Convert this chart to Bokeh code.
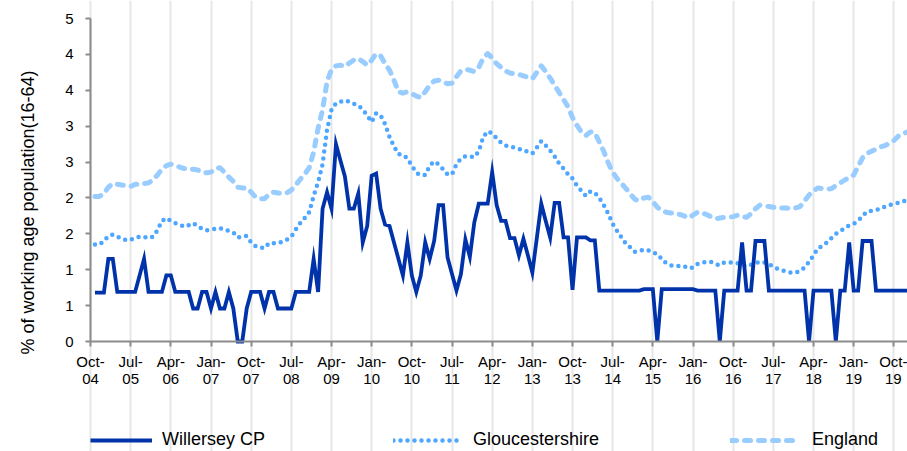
import math
from bokeh.plotting import figure
from bokeh.models import FixedTicker, Legend, LegendItem, Range1d, Label
from bokeh.embed import file_html
from bokeh.resources import INLINE

# months since Oct-04 (first observation Nov-04)
willersey = [0.68, 0.68, 0.68, 1.15, 1.15, 0.69, 0.69, 0.69, 0.69, 0.69,
             0.92, 1.15, 0.69, 0.69, 0.69, 0.69, 0.92, 0.92, 0.69, 0.69,
             0.69, 0.69, 0.46, 0.46, 0.69, 0.69, 0.46, 0.69, 0.46, 0.46,
             0.69, 0.46, 0.0, 0.0, 0.46, 0.69, 0.69, 0.69, 0.46, 0.69,
             0.69, 0.46, 0.46, 0.46, 0.46, 0.69, 0.69, 0.69, 0.69, 1.15,
             0.69, 1.85, 2.08, 1.85, 2.75, 2.52, 2.30, 1.85, 1.85, 2.06,
             1.38, 1.61, 2.31, 2.34, 1.85, 1.63, 1.61, 1.38, 1.15, 0.92,
             1.38, 0.92, 0.69, 0.92, 1.38, 1.15, 1.40, 1.90, 1.90, 1.17,
             0.94, 0.71, 0.94, 1.42, 1.18, 1.66, 1.92, 1.92, 1.92, 2.36,
             1.90, 1.68, 1.68, 1.44, 1.44, 1.20, 1.43, 1.20, 0.96, 1.44,
             1.92, 1.68, 1.45, 1.93, 1.93, 1.45, 1.45, 0.72, 1.45, 1.45,
             1.45, 1.41, 1.41, 0.71, 0.71, 0.71, 0.71, 0.71, 0.71, 0.71,
             0.71, 0.71, 0.71, 0.73, 0.73, 0.73, 0.0, 0.73, 0.73, 0.73,
             0.73, 0.73, 0.73, 0.73, 0.73, 0.71, 0.71, 0.71, 0.71, 0.71,
             0.0, 0.71, 0.71, 0.71, 0.71, 1.38, 0.71, 0.71, 1.40, 1.40,
             1.40, 0.71, 0.71, 0.71, 0.71, 0.71, 0.71, 0.71, 0.71, 0.71,
             0.0, 0.71, 0.71, 0.71, 0.71, 0.71, 0.0, 0.71, 0.71, 1.38,
             0.71, 0.71, 1.40, 1.40, 1.40, 0.71, 0.71, 0.71, 0.71, 0.71,
             0.71, 0.71, 0.71]

gloucestershire = [1.35, 1.35, 1.40, 1.47, 1.49, 1.46, 1.44, 1.41, 1.42, 1.44,
                   1.46, 1.46, 1.44, 1.46, 1.55, 1.68, 1.72, 1.68, 1.65, 1.63,
                   1.60, 1.62, 1.65, 1.61, 1.57, 1.55, 1.56, 1.57, 1.58, 1.56,
                   1.54, 1.52, 1.45, 1.46, 1.47, 1.38, 1.33, 1.31, 1.30, 1.37,
                   1.37, 1.37, 1.39, 1.42, 1.46, 1.56, 1.65, 1.72, 1.80, 2.03,
                   2.22, 2.47, 2.95, 3.23, 3.32, 3.34, 3.36, 3.34, 3.31, 3.29,
                   3.23, 3.15, 3.06, 3.18, 3.15, 3.03, 2.85, 2.72, 2.61, 2.60,
                   2.55, 2.45, 2.35, 2.32, 2.32, 2.45, 2.51, 2.47, 2.40, 2.33,
                   2.33, 2.47, 2.55, 2.58, 2.58, 2.57, 2.65, 2.85, 2.93, 2.90,
                   2.83, 2.77, 2.73, 2.72, 2.70, 2.68, 2.67, 2.64, 2.62, 2.70,
                   2.79, 2.73, 2.66, 2.58, 2.48, 2.41, 2.33, 2.27, 2.17, 2.10,
                   2.03, 2.09, 2.07, 2.00, 1.90, 1.78, 1.64, 1.54, 1.45, 1.36,
                   1.31, 1.25, 1.26, 1.28, 1.27, 1.24, 1.22, 1.15, 1.09, 1.06,
                   1.06, 1.05, 1.05, 1.02, 1.03, 1.08, 1.10, 1.11, 1.11, 1.08,
                   1.06, 1.10, 1.10, 1.10, 1.09, 1.07, 1.05, 1.07, 1.09, 1.11,
                   1.10, 1.08, 1.04, 1.01, 0.99, 0.97, 0.96, 0.96, 0.98, 1.03,
                   1.11, 1.20, 1.30, 1.33, 1.38, 1.44, 1.50, 1.54, 1.58, 1.62,
                   1.64, 1.68, 1.75, 1.81, 1.82, 1.83, 1.85, 1.88, 1.90, 1.92,
                   1.93, 1.95, 1.97]

england = [2.02, 2.02, 2.06, 2.15, 2.20, 2.19, 2.18, 2.17, 2.16, 2.19,
           2.19, 2.20, 2.21, 2.25, 2.32, 2.40, 2.45, 2.47, 2.45, 2.43,
           2.41, 2.40, 2.40, 2.39, 2.36, 2.35, 2.36, 2.41, 2.42, 2.36,
           2.29, 2.23, 2.15, 2.14, 2.14, 2.08, 2.01, 1.99, 1.99, 2.05,
           2.08, 2.07, 2.06, 2.07, 2.11, 2.18, 2.26, 2.33, 2.42, 2.64,
           2.97, 3.23, 3.62, 3.79, 3.84, 3.85, 3.83, 3.88, 3.92, 3.94,
           3.90, 3.85, 3.92, 4.01, 3.98, 3.87, 3.78, 3.64, 3.48, 3.46,
           3.48, 3.45, 3.42, 3.40, 3.48, 3.57, 3.63, 3.64, 3.62, 3.59,
           3.60, 3.69, 3.77, 3.79, 3.78, 3.76, 3.82, 3.95, 4.01, 3.95,
           3.87, 3.82, 3.77, 3.74, 3.73, 3.72, 3.70, 3.68, 3.66, 3.75,
           3.84, 3.76, 3.67, 3.57, 3.47, 3.37, 3.27, 3.12, 3.01, 2.92,
           2.87, 2.92, 2.91, 2.78, 2.65, 2.49, 2.36, 2.27, 2.20, 2.13,
           2.05, 1.98, 1.96, 2.00, 2.01, 1.95, 1.87, 1.83, 1.80, 1.79,
           1.79, 1.77, 1.75, 1.72, 1.76, 1.80, 1.79, 1.77, 1.74, 1.71,
           1.72, 1.73, 1.73, 1.74, 1.76, 1.74, 1.73, 1.78, 1.85, 1.90,
           1.89, 1.88, 1.87, 1.87, 1.86, 1.86, 1.85, 1.86, 1.88, 1.96,
           2.04, 2.10, 2.14, 2.13, 2.12, 2.13, 2.17, 2.21, 2.25, 2.29,
           2.32, 2.44, 2.56, 2.62, 2.65, 2.68, 2.71, 2.73, 2.76, 2.80,
           2.86, 2.89, 2.92]

x_tick_labels = ["Oct-\n04", "Jul-\n05", "Apr-\n06", "Jan-\n07", "Oct-\n07", "Jul-\n08",
                 "Apr-\n09", "Jan-\n10", "Oct-\n10", "Jul-\n11", "Apr-\n12", "Jan-\n13",
                 "Oct-\n13", "Jul-\n14", "Apr-\n15", "Jan-\n16", "Oct-\n16", "Jul-\n17",
                 "Apr-\n18", "Jan-\n19", "Oct-\n19"]
y_ticks = [0, 0.5, 1, 1.5, 2, 2.5, 3, 3.5, 4, 4.5]
y_tick_labels = ["0", "1", "1", "2", "2", "3", "3", "4", "4", "5"]
series_names = ["Willersey CP", "Gloucestershire", "England"]
y_title = "% of working age population(16-64)"

months = list(range(1, len(willersey) + 1))
x_ticks = [9 * i for i in range(len(x_tick_labels))]

FONT = "Liberation Sans"
W, H = 907, 451
AX_LEFT, AX_BOTTOM, AX_TOP = 90, 341, 18     # pixel positions of the axes
Y_MAX = 4.5
X_MAX = 183.06
PX_X = (W - AX_LEFT) / X_MAX                  # pixels per month
PX_Y = (AX_BOTTOM - AX_TOP) / Y_MAX           # pixels per unit

# the frame covers the whole canvas; axes are pinned at x=0 / y=0
p = figure(width=W, height=H, output_backend="svg", toolbar_location=None,
           x_range=Range1d(-AX_LEFT / PX_X, X_MAX),
           y_range=Range1d(-(H - AX_BOTTOM) / PX_Y, AX_BOTTOM / PX_Y),
           min_border_left=0, min_border_right=0, min_border_top=0,
           min_border_bottom=0)
p.outline_line_color = None
p.background_fill_color = "white"

r_eng = p.line(months, england, line_color="#99CCFF", line_width=5,
               line_dash="6 8", line_cap="round", line_join="round")
r_glo = p.line(months, gloucestershire, line_color="#4DA6FF", line_width=4.5,
               line_dash="0 7", line_cap="round", line_join="round")
r_wil = p.line(months, willersey, line_color="#0033AA", line_width=3.8,
               line_join="miter")

p.xaxis.fixed_location = 0
p.xaxis.bounds = (0, X_MAX)
p.xaxis.ticker = FixedTicker(ticks=x_ticks)
p.xaxis.major_label_overrides = {t: lab for t, lab in zip(x_ticks, x_tick_labels)}
p.xaxis.major_label_text_line_height = 1.05
p.yaxis.fixed_location = 0
p.yaxis.bounds = (0, Y_MAX)
p.yaxis.ticker = FixedTicker(ticks=y_ticks)
p.yaxis.major_label_overrides = {t: lab for t, lab in zip(y_ticks, y_tick_labels)}

for ax in (p.xaxis, p.yaxis):
    ax.axis_line_color = "#8C8C8C"
    ax.axis_line_width = 2
    ax.major_tick_line_color = "#8C8C8C"
    ax.major_tick_line_width = 2
    ax.major_tick_out = 5
    ax.major_tick_in = 0
    ax.minor_tick_line_color = None
    ax.major_label_text_font = FONT
    ax.major_label_text_font_size = "15px"
    ax.major_label_text_color = "black"

p.xaxis.major_label_standoff = 6
p.yaxis.major_label_standoff = 12

# y-axis title
p.add_layout(Label(x=27, y=H - 212, x_units="screen", y_units="screen",
                   text=y_title, angle=math.pi / 2, text_align="center",
                   text_baseline="middle", text_font=FONT, text_font_size="18px",
                   text_color="black"))

p.xgrid.ticker = FixedTicker(ticks=x_ticks)
p.xgrid.grid_line_color = "#E6E6E6"
p.xgrid.grid_line_width = 2
p.xgrid.bounds = (0, Y_MAX)
p.ygrid.grid_line_color = None

# legend: three separate entries below the chart
for r, name, xoff, gw, st in zip([r_wil, r_glo, r_eng], series_names,
                                 [90, 393, 730], [62, 68, 70], [10, 12, 12]):
    lg = Legend(items=[LegendItem(label=name, renderers=[r])],
                location=(xoff, 1), orientation="horizontal",
                padding=0, margin=0, spacing=0, border_line_color=None,
                background_fill_alpha=0, glyph_width=gw, glyph_height=20,
                label_standoff=st, label_text_font=FONT,
                label_text_font_size="18px", label_text_color="black")
    p.add_layout(lg)

open("out.html", "w").write(file_html(p, INLINE))
